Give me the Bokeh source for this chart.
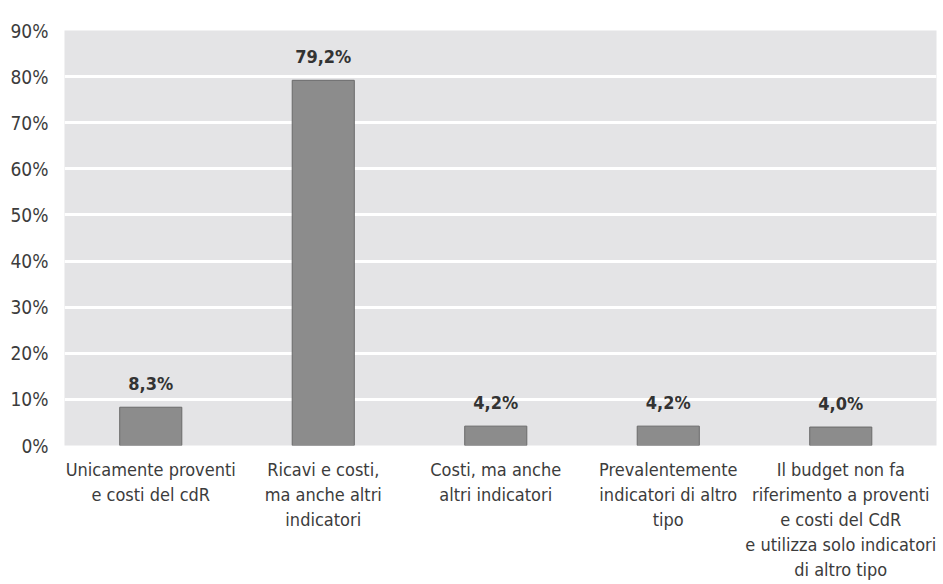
from bokeh.plotting import figure
from bokeh.models import ColumnDataSource, FixedTicker, PrintfTickFormatter, Range1d, LabelSet
from bokeh.core.properties import value
from bokeh.embed import file_html
from bokeh.resources import INLINE

categories = [
    "Unicamente proventi\ne costi del cdR",
    "Ricavi e costi,\nma anche altri\nindicatori",
    "Costi, ma anche\naltri indicatori",
    "Prevalentemente\nindicatori di altro\ntipo",
    "Il budget non fa\nriferimento a proventi\ne costi del CdR\ne utilizza solo indicatori\ndi altro tipo",
]
values = [8.3, 79.2, 4.2, 4.2, 4.0]
value_labels = ["8,3%", "79,2%", "4,2%", "4,2%", "4,0%"]
y_ticks = [0, 10, 20, 30, 40, 50, 60, 70, 80, 90]

FONT = "'DejaVu Sans Condensed', Roboto, sans-serif"
xs = list(range(len(categories)))
src = ColumnDataSource(dict(x=xs, top=values, lab=value_labels))

p = figure(width=940, height=584, output_backend="svg", toolbar_location=None,
           x_range=Range1d(-0.5, 4.555), y_range=Range1d(0, 90),
           min_border_left=64, min_border_right=4, min_border_top=30, min_border_bottom=139)
p.background_fill_color = "#e4e4e6"
p.border_fill_color = "white"
p.outline_line_color = None

p.vbar(x="x", top="top", width=0.36, bottom=0, source=src,
       fill_color="#8c8c8c", line_color="#6a6a6a", line_width=1)

labels = LabelSet(x="x", y="top", text="lab", source=src, text_align="center",
                  text_baseline="bottom", y_offset=13, text_font=value(FONT),
                  text_font_style="bold", text_font_size="18px", text_color="#333333")
p.add_layout(labels)

p.xgrid.visible = False
p.ygrid.ticker = FixedTicker(ticks=y_ticks)
p.ygrid.grid_line_color = "white"
p.ygrid.grid_line_width = 3

p.yaxis.ticker = FixedTicker(ticks=y_ticks)
p.yaxis.formatter = PrintfTickFormatter(format="%d%%")
p.xaxis.ticker = FixedTicker(ticks=xs)
p.xaxis.major_label_overrides = {i: c for i, c in enumerate(categories)}

for ax in (p.xaxis[0], p.yaxis[0]):
    ax.axis_line_color = None
    ax.major_tick_line_color = None
    ax.minor_tick_line_color = None
    ax.major_label_text_font = FONT
    ax.major_label_text_color = "#3c3c3c"
p.yaxis.major_label_text_font_size = "19px"
p.yaxis.major_label_standoff = 10
p.xaxis.major_label_text_font_size = "18px"
p.xaxis.major_label_standoff = 7

open("out.html", "w").write(file_html(p, INLINE))
